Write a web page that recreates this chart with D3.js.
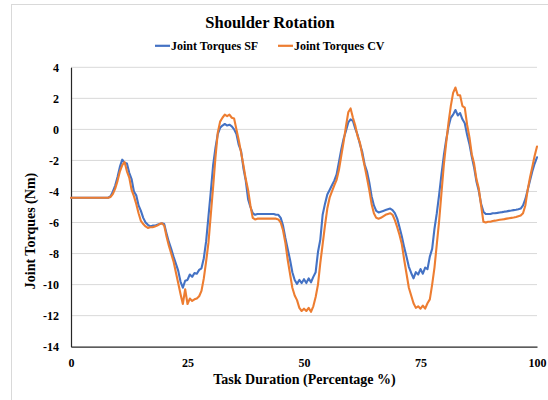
<!DOCTYPE html>
<html>
<head>
<meta charset="utf-8">
<script src="https://cdn.jsdelivr.net/npm/d3@7"></script>
<style>
  body { margin: 0; background: #fff; }
  svg { display: block; }
  svg text { font-family: "Liberation Serif", "Times New Roman", serif; }
</style>
</head>
<body>
<svg id="chart" width="548" height="400"></svg>
<script>
// ---- data ----
const pct = [
  0, 2, 4, 6, 8,
  8.5, 9, 9.5, 10, 10.5, 11, 11.5, 12, 12.5, 13,
  13.5, 14, 14.5, 15, 15.5, 16, 16.5, 17, 17.5, 18,
  18.5, 19, 19.5, 20, 20.5, 21, 21.5, 22, 22.5, 23,
  23.5, 24, 24.5, 25, 25.5, 26, 26.5, 27, 27.5, 28,
  28.5, 29, 29.5, 30, 30.5, 31, 31.5, 32, 32.5, 33,
  33.5, 34, 34.5, 35, 35.5, 36, 36.5, 37, 37.5, 38,
  38.5, 39, 39.5, 40, 40.5, 41, 41.5, 42, 42.5, 43,
  43.5, 44, 44.5, 45, 45.5, 46, 46.5, 47, 47.5, 48,
  48.5, 49, 49.5, 50, 50.5, 51, 51.5, 52, 52.5, 53,
  53.5, 54, 54.5, 55, 55.5, 56, 56.5, 57, 57.5, 58,
  58.5, 59, 59.5, 60, 60.5, 61, 61.5, 62, 62.5, 63,
  63.5, 64, 64.5, 65, 65.5, 66, 66.5, 67, 67.5, 68,
  68.5, 69, 69.5, 70, 70.5, 71, 71.5, 72, 72.5, 73,
  73.5, 74, 74.5, 75, 75.5, 76, 76.5, 77, 77.5, 78,
  78.5, 79, 79.5, 80, 80.5, 81, 81.5, 82, 82.5, 83,
  83.5, 84, 84.5, 85, 85.5, 86, 86.5, 87, 87.5, 88,
  88.5, 89, 89.5, 90, 90.5, 91, 91.5, 92, 92.5, 93,
  93.5, 94, 94.5, 95, 95.5, 96, 96.5, 97, 97.5, 98,
  98.5, 99, 99.5, 100
];

const torqueSF = [
  -4.4, -4.4, -4.4, -4.4, -4.4,
  -4.3, -4.0, -3.6, -3.05, -2.4, -1.95, -2.15, -2.2, -2.8, -3.2,
  -4.0, -4.25, -4.9, -5.25, -5.7, -6.0, -6.15, -6.25, -6.2, -6.2,
  -6.15, -6.1, -6.05, -6.1, -6.7, -7.25, -7.7, -8.2, -8.65, -9.1,
  -9.8, -10.2, -9.75, -9.7, -9.35, -9.5, -9.25, -9.3, -9.05, -8.95,
  -8.3, -7.2, -5.6, -4.0, -2.3, -1.2, -0.3, 0.1, 0.25, 0.35,
  0.25, 0.3, 0.2, 0.0, -0.3, -1.0, -1.4, -2.5, -3.3, -4.5,
  -5.0, -5.4, -5.5, -5.45, -5.45, -5.45, -5.45, -5.45, -5.45, -5.45,
  -5.45, -5.5, -5.5, -5.7, -6.2, -7.0, -7.7, -8.4, -9.2, -9.7,
  -9.95, -9.7, -9.9, -9.65, -9.9, -9.6, -9.85, -9.5, -9.2, -7.9,
  -7.1, -5.5, -4.8, -4.2, -3.9, -3.6, -3.3, -2.9, -2.1, -1.3,
  -0.6, -0.1, 0.45, 0.65, 0.55, 0.05, -0.35, -0.95, -1.45, -2.25,
  -2.7, -3.4, -4.3, -4.9, -5.25, -5.35, -5.3, -5.25, -5.2, -5.15,
  -5.1, -5.2, -5.4, -5.75, -6.3, -6.9, -7.6, -8.2, -8.85, -9.25,
  -9.6, -9.2, -9.35, -9.0, -9.3, -8.9, -9.0, -8.2, -7.7, -6.4,
  -5.4, -4.2, -2.9, -1.7, -0.7, 0.15, 0.75, 0.95, 1.25, 0.9,
  1.05, 0.65, 0.4, -0.35, -0.95, -1.75, -2.45, -3.35, -3.95, -4.8,
  -5.3, -5.45, -5.45, -5.45, -5.4, -5.4, -5.38, -5.35, -5.33, -5.3,
  -5.28, -5.25, -5.23, -5.2, -5.18, -5.15, -5.1, -4.9, -4.5, -3.9,
  -3.3, -2.7, -2.2, -1.8
];

const torqueCV = [
  -4.4, -4.4, -4.4, -4.4, -4.4,
  -4.35, -4.15, -3.8, -3.3, -2.7, -2.3, -2.1, -2.7, -3.1, -3.9,
  -4.3, -4.8, -5.4, -5.9, -6.1, -6.25, -6.35, -6.3, -6.3, -6.25,
  -6.2, -6.1, -6.05, -6.2, -6.9, -7.5, -8.0, -8.5, -9.2, -9.9,
  -10.6, -11.25, -10.3, -11.25, -10.9, -11.05, -10.95, -10.9, -10.75, -10.4,
  -9.6, -8.5, -7.3, -5.5, -3.7, -1.8, -0.2, 0.5, 0.75, 0.95,
  0.85, 0.95, 0.75, 0.7, 0.0, -0.7, -1.5, -2.3, -3.2, -3.9,
  -4.9, -5.7, -5.8, -5.75, -5.75, -5.75, -5.75, -5.75, -5.75, -5.75,
  -5.75, -5.75, -5.8, -6.0, -6.5, -7.3, -8.4, -9.3, -10.2, -10.7,
  -11.0, -11.5, -11.7, -11.55, -11.7, -11.5, -11.75, -11.4, -10.8, -10.0,
  -8.6, -7.4, -6.2, -5.1, -4.4, -4.0, -3.6, -3.25, -2.6, -1.7,
  -0.8, 0.2, 1.1, 1.35, 0.75, 0.25, -0.45, -0.85, -1.65, -2.35,
  -3.1, -3.9, -4.8, -5.4, -5.7, -5.75, -5.7, -5.6, -5.5, -5.45,
  -5.4, -5.5, -5.85, -6.3, -6.8, -7.4, -8.4, -9.3, -10.2, -10.7,
  -11.2, -11.5, -11.4, -11.55, -11.35, -11.55, -11.2, -10.95, -10.0, -8.9,
  -7.4, -5.9, -4.1, -2.3, -0.9, 0.4, 1.5, 2.35, 2.7, 2.2,
  2.2, 1.5, 1.4, 0.3, -0.5, -1.6, -2.2, -3.2, -3.8, -4.9,
  -5.95, -6.0, -5.95, -5.95, -5.9, -5.88, -5.85, -5.82, -5.8, -5.78,
  -5.75, -5.72, -5.7, -5.68, -5.65, -5.6, -5.55, -5.4, -4.9, -3.9,
  -3.1, -2.4, -1.7, -1.1
];

const seriesNames = ["Joint Torques SF", "Joint Torques CV"];
const seriesColors = ["#4472C4", "#ED7D31"];
const xTicks = [0, 25, 50, 75, 100];
const yTicks = [4, 2, 0, -2, -4, -6, -8, -10, -12, -14];

// ---- chart ----
const svg = d3.select("#chart");
const W = 548, H = 400;
const plot = { left: 71, right: 537, top: 67.3, bottom: 346.7 };
const FONT = '"Liberation Serif", "Times New Roman", serif';

svg.append("rect").attr("x", 0).attr("y", 0).attr("width", W).attr("height", H).attr("fill", "#fff");
svg.append("rect").attr("x", 11.5).attr("y", 4.5).attr("width", W).attr("height", H)
  .attr("fill", "none").attr("stroke", "#d9d9d9").attr("stroke-width", 1);

const x = d3.scaleLinear().domain([0, 100]).range([plot.left, plot.right]);
const y = d3.scaleLinear().domain([-14, 4]).range([plot.bottom, plot.top]);

// gridlines
svg.append("g").selectAll("line").data(yTicks.filter(d => d !== -14)).join("line")
  .attr("x1", plot.left).attr("x2", plot.right)
  .attr("y1", d => y(d)).attr("y2", d => y(d))
  .attr("stroke", "#d9d9d9").attr("stroke-width", 1);

// axes
const yAxis = svg.append("g").attr("transform", `translate(${plot.left},0)`)
  .call(d3.axisLeft(y).tickValues(yTicks).tickSize(0).tickPadding(12).tickFormat(d3.format("d")));
const xAxis = svg.append("g").attr("transform", `translate(0,${plot.bottom})`)
  .call(d3.axisBottom(x).tickValues(xTicks).tickSize(0).tickPadding(11.5).tickFormat(d3.format("d")));
[yAxis, xAxis].forEach(a => {
  a.attr("font-family", null);
  a.select(".domain").attr("stroke", "#262626").attr("stroke-width", 1.2);
  a.selectAll("text").style("font-family", FONT)
    .attr("font-size", 12).attr("font-weight", "bold").attr("fill", "#000");
});
yAxis.selectAll("text").text(d => d < 0 ? "-" + Math.abs(d) : d);

// lines
const series = [torqueSF, torqueCV];
const line = d3.line().x(d => x(d[0])).y(d => y(d[1]));
series.forEach((vals, i) => {
  svg.append("path")
    .datum(pct.map((p, k) => [p, vals[k]]))
    .attr("d", line)
    .attr("fill", "none")
    .attr("stroke", seriesColors[i])
    .attr("stroke-width", 2.1)
    .attr("stroke-linejoin", "round")
    .attr("stroke-linecap", "round");
});

// title
svg.append("text").attr("x", 270).attr("y", 27.5).attr("text-anchor", "middle")
  .style("font-family", FONT)
  .attr("font-size", 16.5).attr("font-weight", "bold").attr("fill", "#000")
  .text("Shoulder Rotation");

// legend
const legX = [155, 278];
seriesNames.forEach((n, i) => {
  svg.append("line").attr("x1", legX[i]).attr("x2", legX[i] + 15)
    .attr("y1", 45.8).attr("y2", 45.8)
    .attr("stroke", seriesColors[i]).attr("stroke-width", 2.2);
  svg.append("text").attr("x", legX[i] + 16).attr("y", 50)
    .style("font-family", FONT)
    .attr("font-size", 12).attr("font-weight", "bold").attr("fill", "#000")
    .text(n);
});

// axis titles
svg.append("text").attr("x", 304.5).attr("y", 384).attr("text-anchor", "middle")
  .style("font-family", FONT)
  .attr("font-size", 14).attr("font-weight", "bold").attr("fill", "#000")
  .text("Task Duration (Percentage %)");
svg.append("text").attr("transform", "translate(34.5,231) rotate(-90)").attr("text-anchor", "middle")
  .style("font-family", FONT)
  .attr("font-size", 14).attr("font-weight", "bold").attr("fill", "#000")
  .text("Joint Torques (Nm)");
</script>
</body>
</html>
